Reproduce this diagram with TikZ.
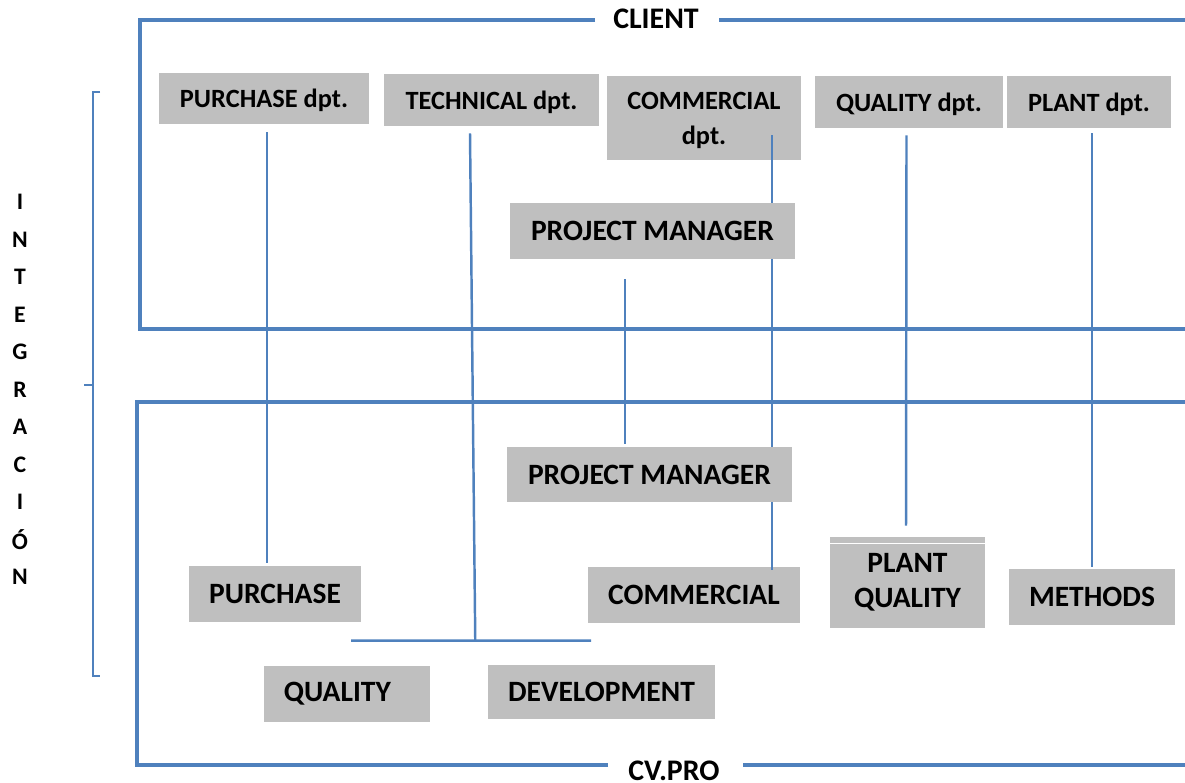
\documentclass[tikz,border=0pt]{standalone}
\usepackage{fontspec}
\setmainfont{Carlito}
\usetikzlibrary{calc}
\definecolor{frameblue}{HTML}{4F81BD}
\definecolor{boxgray}{HTML}{BFBFBF}
\tikzset{
  box/.style={fill=boxgray, inner sep=0pt, align=center,
    font=\bfseries\fontsize{15}{20}\selectfont},
  dptbox/.style={box, text depth=0pt},
  bigbox/.style={box, font=\bfseries\fontsize{16.8}{20}\selectfont},
  link/.style={draw=frameblue, line width=1.4pt},
  frame/.style={draw=frameblue, line width=2.8pt},
  title/.style={inner sep=0pt, anchor=base, font=\bfseries\fontsize{17}{20}\selectfont},
  vlet/.style={inner sep=0pt, font=\bfseries\fontsize{13.5}{15}\selectfont}
}
\begin{document}
\begin{tikzpicture}[x=0.02cm, y=-0.02cm]
   \useasboundingbox (0,0) rectangle (1185,783);
   % client and supplier frames
   \draw[frame] (595,20) -- (140,20) -- (140,329) -- (1185,329);
   \draw[frame] (719,20) -- (1185,20);
   \node[title] (client) at (656,29) {CLIENT};
   \draw[frame] (608,765) -- (137,765) -- (137,402) -- (1185,402);
   \draw[frame] (743,765) -- (1185,765);
   \node[title] (cvpro) at (674,780) {CV.PRO};
   % integration brace
   \draw[frameblue, line width=1.1pt] (100,92) -- (93,92) -- (93,676) -- (100,676);
   \draw[frameblue, line width=1.1pt] (93,385) -- (84,385);
   \foreach \l [count=\i] in {I,N,T,E,G,R,A,C,I,Ó,N}
      \node[vlet] (let\i) at (20,{202+37.5*(\i-1)}) {\l};
   % client departments
   \node[dptbox, minimum width=4.2cm, minimum height=1.02cm] (purdpt) at (264,98.5) {PURCHASE dpt.};
   \node[dptbox, minimum width=4.3cm, minimum height=1.04cm] (tecdpt) at (491.5,100) {TECHNICAL dpt.};
   \node[dptbox, minimum width=3.88cm, minimum height=1.68cm] (comdpt) at (704,118) {COMMERCIAL\\dpt.};
   \node[dptbox, minimum width=3.76cm, minimum height=1.04cm] (quadpt) at (909,102) {QUALITY dpt.};
   \node[dptbox, minimum width=3.28cm, minimum height=1.04cm] (plantdpt) at (1089,102) {PLANT dpt.};
   \node[bigbox, minimum width=5.7cm, minimum height=1.12cm] (pmcli) at (652.5,231) {PROJECT MANAGER};
   % supplier departments
   \node[bigbox, minimum width=5.7cm, minimum height=1.1cm] (pmsup) at (649.5,474.5) {PROJECT MANAGER};
   \node[bigbox, minimum width=3.44cm, minimum height=1.12cm] (pur) at (275,594) {PURCHASE};
   \node[bigbox, minimum width=4.24cm, minimum height=1.12cm] (com) at (694,595) {COMMERCIAL};
   \node[bigbox, minimum width=3.1cm, minimum height=1.82cm] (plantq) at (907.5,582.5) {PLANT\\QUALITY};
   \draw[white, line width=0.6pt] ($(plantq.north west)+(0,7)$) -- ($(plantq.north east)+(0,7)$);
   \node[bigbox, minimum width=3.32cm, minimum height=1.12cm] (meth) at (1092,597) {METHODS};
   \node[bigbox, minimum width=3.32cm, minimum height=1.12cm] (qual) at (347,694) {QUALITY\hspace*{11pt}};
   \node[bigbox, minimum width=4.54cm, minimum height=1.08cm] (dev) at (601.5,692) {DEVELOPMENT};
   % links
   \draw[link] ($(purdpt.south)+(3,8)$) -- ($(pur.north)+(-8,-3)$);
   \coordinate (split) at ($(qual.north)!0.5!(dev.north)+(1,-25)$);
   \draw[link] ($(tecdpt.south)+(-21.5,7)$) -- (split);
   \draw[link] ($(qual.north)+(4,-25)$) -- ($(dev.north)+(-10.5,-24)$);
   \draw[link] ($(pmcli.south)+(-27.5,20)$) -- ($(pmsup.north)+(-24.5,-3)$);
   \coordinate (ctop) at ($(comdpt.south)+(68,-25)$);
   \draw[link] (ctop) -- (ctop |- pmcli.north);
   \draw[link] (ctop |- pmcli.south) -- (ctop |- pmsup.north);
   \draw[link] (ctop |- pmsup.south) -- ($(ctop |- com.north)+(0,3)$);
   \draw[link] ($(quadpt.south)+(-2.5,7)$) -- ($(plantq.north)+(-1.5,-11)$);
   \draw[link] ($(plantdpt.south)+(3,5)$) -- ($(meth.north)+(0,-2)$);
\end{tikzpicture}
\end{document}
